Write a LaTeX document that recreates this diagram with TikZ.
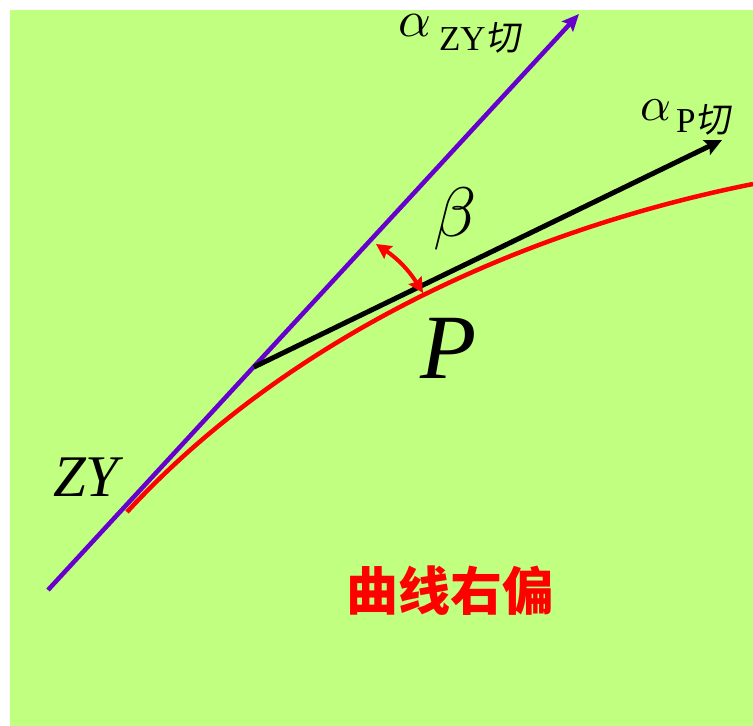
\documentclass[tikz,border=0pt]{standalone}
\usepackage{fontspec}
\setmainfont{Liberation Serif}
\newfontfamily\cjk{Noto Sans CJK SC}
\newfontfamily\cjksl[FakeSlant=0.15]{Noto Sans CJK SC}
\DeclareFontShape{OML}{cmm}{m}{it}{<->cmmi10}{}
\usetikzlibrary{arrows.meta,calc}
\definecolor{bggreen}{RGB}{192,255,128}
\definecolor{tanpurple}{RGB}{102,0,204}
\tikzset{
  zytan/.style={-{Stealth[length=17pt,width=15pt,inset=3pt]},line width=4.5pt,color=tanpurple},
  ptan/.style={-{Stealth[length=17pt,width=16pt,inset=3pt]},line width=5pt,color=black},
  curve/.style={line width=4.5pt,color=red},
  betaarc/.style={{Stealth[length=15pt,width=15pt,inset=2pt]}-{Stealth[length=15pt,width=15pt,inset=2pt]},line width=4pt,color=red},
  lbl/.style={inner sep=0pt,outer sep=0pt}
}

\begin{document}
\begin{tikzpicture}[x=1pt,y=-1pt]
\useasboundingbox (0,0) rectangle (753,726);
\fill[white] (0,0) rectangle (753,726);
\fill[bggreen] (10,10) rectangle (753,726);
\coordinate (ZYend) at (48,590);
\coordinate (ZYtip) at (579,14);
\coordinate (ZYpt) at (254,367);
\coordinate (Ptip) at (722,140);
\coordinate (cS) at (127,512);
\coordinate (cE) at (753,184);
\coordinate (b1) at (376,244);
\coordinate (b2) at (423,293);
% curve
\draw[curve] (cS) .. controls (277,349) and (503,234) .. (cE);
\draw[zytan] (ZYend) -- (ZYtip);
\draw[ptan] (ZYpt) -- (Ptip);
\draw[betaarc] (b1) to[bend left=12] (b2);
% labels
\node[lbl,anchor=base west,font=\fontsize{51}{51}\selectfont] (aZY) at (398,36) {$\alpha$};
\node[lbl,anchor=base west,font=\fontsize{35}{35}\selectfont] (aZYsub) at (439,50) {ZY\cjksl 切};
\node[lbl,anchor=base west,font=\fontsize{48}{48}\selectfont] (aP) at (640,120) {$\alpha$};
\node[lbl,anchor=base west,font=\fontsize{35}{35}\selectfont] (aPsub) at (676,132) {P\cjksl 切};
\node[lbl,font=\fontsize{70}{70}\selectfont] (beta) at (455,219) {$\beta$};
\node[lbl,font=\fontsize{92}{92}\selectfont\itshape] (P) at (449,348) {P};
\node[lbl,font=\fontsize{59}{59}\selectfont\itshape] (ZY) at (86,477) {ZY};
\node[lbl,text=red,font=\fontsize{52}{52}\selectfont\cjk\bfseries] (dev) at (450,591) {曲线右偏};
\end{tikzpicture}
\end{document}
